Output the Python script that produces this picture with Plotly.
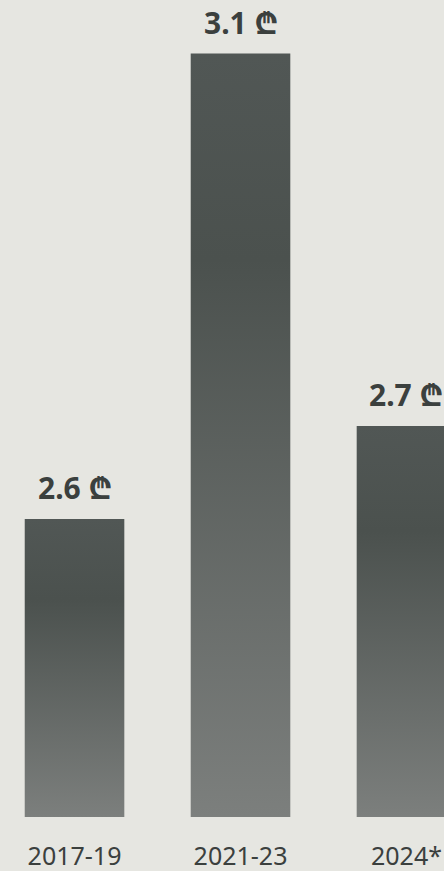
import plotly.graph_objects as go

# Average values by period (GEL)
periods = ["2017-19", "2021-23", "2024*"]
values = [2.6, 3.1, 2.7]
currency = "₾"

BG = "#e6e6e1"
TEXT = "#3b403e"
BAR_WIDTH = 0.6
Y_MIN, Y_MAX = 2.28, 3.1576

# vertical gradient: light at the base, darkest ~3/4 up, slightly lighter at the top
gradient = [[0.0, "#7c7f7d"], [0.73, "#4b514e"], [1.0, "#515755"]]

fig = go.Figure()
for i, (p, v) in enumerate(zip(periods, values)):
    x0, x1 = i - BAR_WIDTH / 2, i + BAR_WIDTH / 2
    fig.add_trace(go.Scatter(
        x=[x0, x1, x1, x0, x0],
        y=[Y_MIN, Y_MIN, v, v, Y_MIN],
        mode="lines",
        line=dict(width=0),
        fill="toself",
        fillgradient=dict(type="vertical", colorscale=gradient, start=Y_MIN, stop=v),
        hoverinfo="skip",
        showlegend=False,
        name=p,
    ))
    fig.add_annotation(
        x=i, y=v, yanchor="bottom", yshift=9, showarrow=False,
        text=f"<b>{v:.1f} {currency}</b>",
        font=dict(size=30, color=TEXT, family="Noto Sans, DejaVu Sans, sans-serif"),
    )

fig.update_layout(
    width=444, height=871,
    margin=dict(l=0, r=0, t=0, b=54),
    paper_bgcolor=BG, plot_bgcolor=BG,
    showlegend=False,
)
fig.update_xaxes(
    range=[-0.449, 2.226], tickvals=list(range(len(periods))), ticktext=periods,
    showgrid=False, zeroline=False, showline=False, ticks="",
    ticklabelstandoff=22,
    tickfont=dict(size=25, color=TEXT, family="Noto Sans, sans-serif"),
    fixedrange=True,
)
fig.update_yaxes(
    range=[Y_MIN, Y_MAX], visible=False, showgrid=False, zeroline=False, fixedrange=True,
)

fig.write_html("out.html", config={"displayModeBar": False})
